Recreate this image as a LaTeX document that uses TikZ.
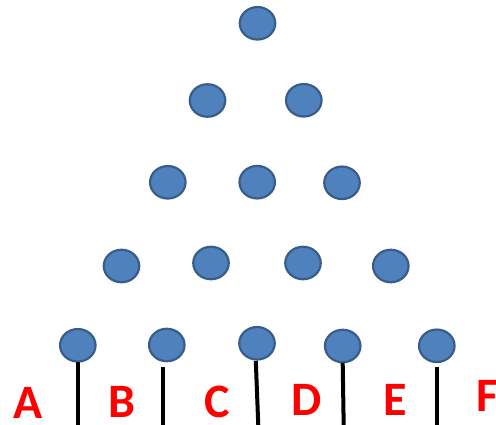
\documentclass[tikz,border=0pt]{standalone}
\usepackage{fontspec}
\setmainfont{Carlito}
\usetikzlibrary{shapes.geometric}
\definecolor{ballfill}{HTML}{4F81BD}
\definecolor{balledge}{HTML}{385D8A}
\begin{document}
\begin{tikzpicture}[x=1pt,y=-1pt,
  ball/.style={ellipse,draw=balledge,fill=ballfill,line width=2.2pt,minimum width=35.5pt,minimum height=32.5pt,inner sep=0pt},
  stick/.style={draw=black,line width=4pt},
  lbl/.style={text=red,font=\fontsize{48}{48}\selectfont\bfseries,inner sep=0pt,anchor=center}]
\useasboundingbox (0,0) rectangle (496,425);
% row 1
\node[ball] (r1a) at (257.5,23.3) {};
% row 2
\node[ball] (r2a) at (207.5,100.5) {};
\node[ball] (r2b) at (303.8,100.3) {};
% row 3
\node[ball] (r3a) at (167.8,182.3) {};
\node[ball] (r3b) at (257.2,182.2) {};
\node[ball] (r3c) at (342.0,182.8) {};
% row 4
\node[ball] (r4a) at (121.5,266) {};
\node[ball] (r4b) at (211,263) {};
\node[ball] (r4c) at (303,263) {};
\node[ball] (r4d) at (390.8,266) {};
% row 5
\node[ball] (r5a) at (77.8,345.3) {};
\node[ball] (r5b) at (166.8,345) {};
\node[ball] (r5c) at (257,343.3) {};
\node[ball] (r5d) at (342.7,346) {};
\node[ball] (r5e) at (436.8,345.8) {};
% stick ends
\coordinate (s1t) at (78.3,362);
\coordinate (s1b) at (78.3,426);
\coordinate (s2t) at (163.3,367);
\coordinate (s2b) at (163.3,426);
\coordinate (s3t) at (255.8,361);
\coordinate (s3b) at (258.3,426);
\coordinate (s4t) at (342.7,363);
\coordinate (s4b) at (343.7,426);
\coordinate (s5t) at (436.7,367);
\coordinate (s5b) at (436.7,426);
\draw[stick] (s1t) -- (s1b);
\draw[stick] (s2t) -- (s2b);
\draw[stick] (s3t) -- (s3b);
\draw[stick] (s4t) -- (s4b);
\draw[stick] (s5t) -- (s5b);
% labels
\node[lbl] (la) at (28.3,402.5) {A};
\node[lbl] (lb) at (121.7,402) {B};
\node[lbl] (lc) at (217.5,402) {C};
\node[lbl] (ld) at (306.3,399.5) {D};
\node[lbl] (le) at (395.7,400) {E};
\node[lbl,anchor=west] (lf) at (476.5,396) {F};
\end{tikzpicture}
\end{document}
